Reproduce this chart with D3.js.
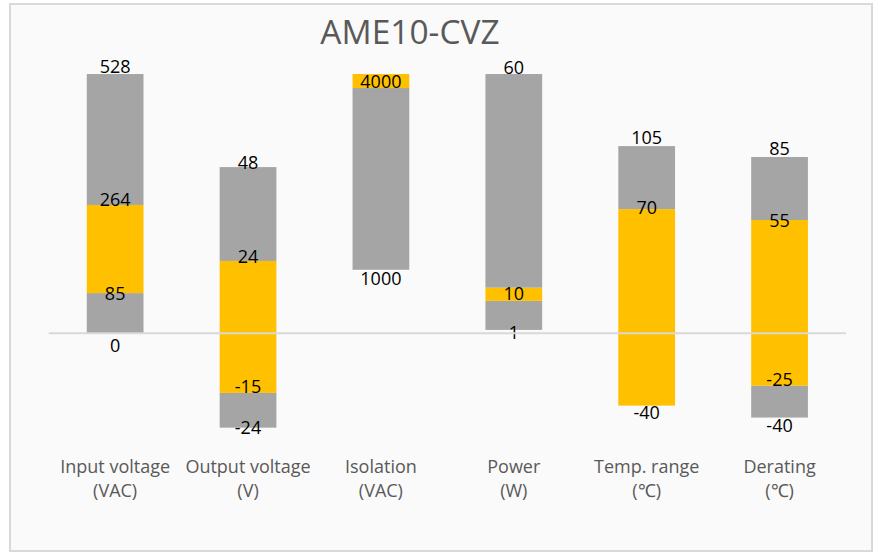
<!DOCTYPE html>
<html>
<head>
<meta charset="utf-8">
<script src="https://cdn.jsdelivr.net/npm/d3@7"></script>
<style>
  html, body { margin: 0; padding: 0; background: #ffffff; }
  svg { display: block; }
</style>
</head>
<body>
<svg id="chart" width="877" height="554"></svg>
<script>
// ---- data ----
const title = "AME10-CVZ";
const categoryLine1 = ["Input voltage", "Output voltage", "Isolation", "Power", "Temp. range", "Derating"];
const categoryLine2 = ["(VAC)", "(V)", "(VAC)", "(W)", "(\u2103)", "(\u2103)"];

// plotted (normalised) segment boundaries for each category, bottom to top
const inputBounds     = [0, 15.5, 49.5, 100];
const outputBounds    = [-36.4, -23.0, 27.9, 64.1];
const isolationBounds = [24.5, 94.6, 100];
const powerBounds     = [1.3, 12.5, 17.6, 100];
const tempBounds      = [-27.9, 47.9, 72.2];
const deratingBounds  = [-32.5, -20.2, 43.7, 68.0];

// segment series between consecutive boundaries ("g" = gray range, "y" = yellow range)
const inputSeg     = ["g", "y", "g"];
const outputSeg    = ["g", "y", "g"];
const isolationSeg = ["g", "y"];
const powerSeg     = ["g", "y", "g"];
const tempSeg      = ["y", "g"];
const deratingSeg  = ["g", "y", "g"];

// value labels attached to each boundary
const inputLabels     = ["0", "85", "264", "528"];
const outputLabels    = ["-24", "-15", "24", "48"];
const isolationLabels = ["1000", "", "4000"];
const powerLabels     = ["1", "", "10", "60"];
const tempLabels      = ["-40", "70", "105"];
const deratingLabels  = ["-40", "-25", "55", "85"];

const allBounds = [inputBounds, outputBounds, isolationBounds, powerBounds, tempBounds, deratingBounds];
const allSegs   = [inputSeg, outputSeg, isolationSeg, powerSeg, tempSeg, deratingSeg];
const allLabels = [inputLabels, outputLabels, isolationLabels, powerLabels, tempLabels, deratingLabels];

// ---- styling ----
const labelNudge = [
  [12, 0, -5, -8],
  [0, -6, -4, -5],
  [9, 0, 7],
  [3, 0, 6, -7],
  [7, -2, -9],
  [8, -6, 1, -8]
];
const colors = { g: "#a5a5a5", y: "#ffc000" };

const svg = d3.select("#chart");

// chart area
svg.append("rect")
  .attr("x", 10).attr("y", 4).attr("width", 862).attr("height", 547)
  .attr("fill", "#fafafa").attr("stroke", "#d9d9d9").attr("stroke-width", 2);

svg.append("text")
  .attr("x", 410).attr("y", 44)
  .attr("text-anchor", "middle")
  .attr("font-family", "'Open Sans', sans-serif")
  .attr("font-size", 33.5)
  .attr("fill", "#595959")
  .text(title);

const x = d3.scaleBand()
  .domain(categoryLine1)
  .range([48.7, 846])
  .paddingInner(0).paddingOuter(0);

const y = d3.scaleLinear().domain([-40, 110]).range([437.0, 48.1]);

const barW = x.bandwidth() * 0.427;

const groups = svg.selectAll("g.cat")
  .data(categoryLine1.map((c, i) => ({ c, i })))
  .enter().append("g").attr("class", "cat");

groups.each(function(d) {
  const g = d3.select(this);
  const b = allBounds[d.i];
  const segs = allSegs[d.i].map((s, k) => ({ s, lo: b[k], hi: b[k + 1] }));
  const cx = x(d.c) + x.bandwidth() / 2;
  g.selectAll("rect").data(segs).enter().append("rect")
    .attr("x", cx - barW / 2)
    .attr("width", barW)
    .attr("y", s => y(s.hi))
    .attr("height", s => y(s.lo) - y(s.hi))
    .attr("fill", s => colors[s.s]);
});

// zero line
svg.append("line")
  .attr("x1", x.range()[0]).attr("x2", x.range()[1])
  .attr("y1", y(0)).attr("y2", y(0))
  .attr("stroke", "#d9d9d9").attr("stroke-width", 2);

// value labels
groups.each(function(d) {
  const g = d3.select(this);
  const b = allBounds[d.i];
  const cx = x(d.c) + x.bandwidth() / 2;
  const lab = allLabels[d.i].map((t, k) => ({ t, v: b[k], n: labelNudge[d.i][k] })).filter(o => o.t !== "");
  g.selectAll("text.val").data(lab).enter().append("text")
    .attr("class", "val")
    .attr("x", cx)
    .attr("y", o => y(o.v) + o.n)
    .attr("dy", "0.36em")
    .attr("text-anchor", "middle")
    .attr("font-family", "'Open Sans', sans-serif")
    .attr("font-size", 18)
    .attr("fill", "#000")
    .text(o => o.t);
});

// category labels
const catText = svg.selectAll("text.cat")
  .data(categoryLine1.map((c, i) => ({ c, l2: categoryLine2[i] })))
  .enter().append("text")
  .attr("class", "cat")
  .attr("text-anchor", "middle")
  .attr("font-family", "'Open Sans', sans-serif")
  .attr("font-size", 18)
  .attr("fill", "#595959");
catText.append("tspan")
  .attr("x", d => x(d.c) + x.bandwidth() / 2).attr("y", 473)
  .text(d => d.c);
catText.append("tspan")
  .attr("x", d => x(d.c) + x.bandwidth() / 2).attr("y", 497)
  .text(d => d.l2);
</script>
</body>
</html>
